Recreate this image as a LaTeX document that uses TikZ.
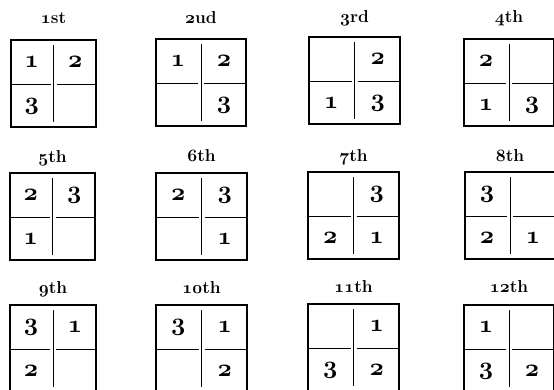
\documentclass[tikz,border=0pt]{standalone}
\usetikzlibrary{positioning}

% old-style figures from the bold math italic font
\newcommand\osfig[1]{{\fontencoding{OML}\fontfamily{cmm}\fontseries{b}\fontshape{it}\selectfont #1}}

\begin{document}
\begin{tikzpicture}[
    x=1pt, y=-1pt,
    rule/.style={line width=1.5pt},
    thinrule/.style={line width=1.0pt},
    cellnum/.style={font=\fontsize{24.88}{25}\selectfont, inner sep=0pt},
    caption/.style={font=\fontsize{17.28}{18}\selectfont\bfseries, anchor=base, inner sep=0pt}
]
    \useasboundingbox (0,0) rectangle (554,389);
    \clip (0,0) rectangle (554,389);

    % left / top / width / caption baseline / caption / cells (tl, tr, bl, br)
    \foreach \x/\y/\w/\t/\lab/\a/\b/\c/\d [count=\i] in {
        10/40/87/23/{\osfig{1}st}/1/2/3/{},
        155/39/92/23/{\osfig{2}ud}/1/2/{}/3,
        308/37/93/22/{\osfig{3}rd}/{}/2/1/3,
        463/39/92/22/{\osfig{4}th}/2/{}/1/3,
        9/173/87/162/{\osfig{5}th}/2/3/1/{},
        155/173/93/161/{\osfig{6}th}/2/3/{}/1,
        307/172/93/161/{\osfig{7}th}/{}/3/2/1,
        464/172/92/161/{\osfig{8}th}/3/{}/2/1,
        9/305/88/293/{\osfig{9}th}/3/1/2/{},
        155/305/93/293/{\osfig{10}th}/3/1/{}/2,
        307/304/93/292/{\osfig{11}th}/{}/1/3/2,
        463/305/92/292/{\osfig{12}th}/1/{}/3/2}
    {
        \draw [rule] (\x,\y) -- ++(\w,0);
        \draw [rule] (\x,{\y+87}) -- ++(\w,0);
        \draw [rule] ({\x+1},\y) -- ++(0,87);
        \draw [rule] ({\x+\w-1},\y) -- ++(0,87);
        \draw [thinrule] ({\x+\w/2},{\y+5}) -- ++(0,77);
        \draw [thinrule] ({\x+1},{\y+44}) -- ({\x+\w/2-3},{\y+44});
        \draw [thinrule] ({\x+\w/2+3},{\y+44}) -- ({\x+\w-1},{\y+44});

        \node [caption] (lab\i) at ({\x+\w/2},\t) {\lab};
        \node [cellnum] (tl\i) at ({\x+\w/4},{\y+22}) {\osfig{\a}};
        \node [cellnum] (tr\i) at ({\x+3*\w/4},{\y+22}) {\osfig{\b}};
        \node [cellnum] (bl\i) at ({\x+\w/4},{\y+66}) {\osfig{\c}};
        \node [cellnum] (br\i) at ({\x+3*\w/4},{\y+66}) {\osfig{\d}};
    }
\end{tikzpicture}
\end{document}
